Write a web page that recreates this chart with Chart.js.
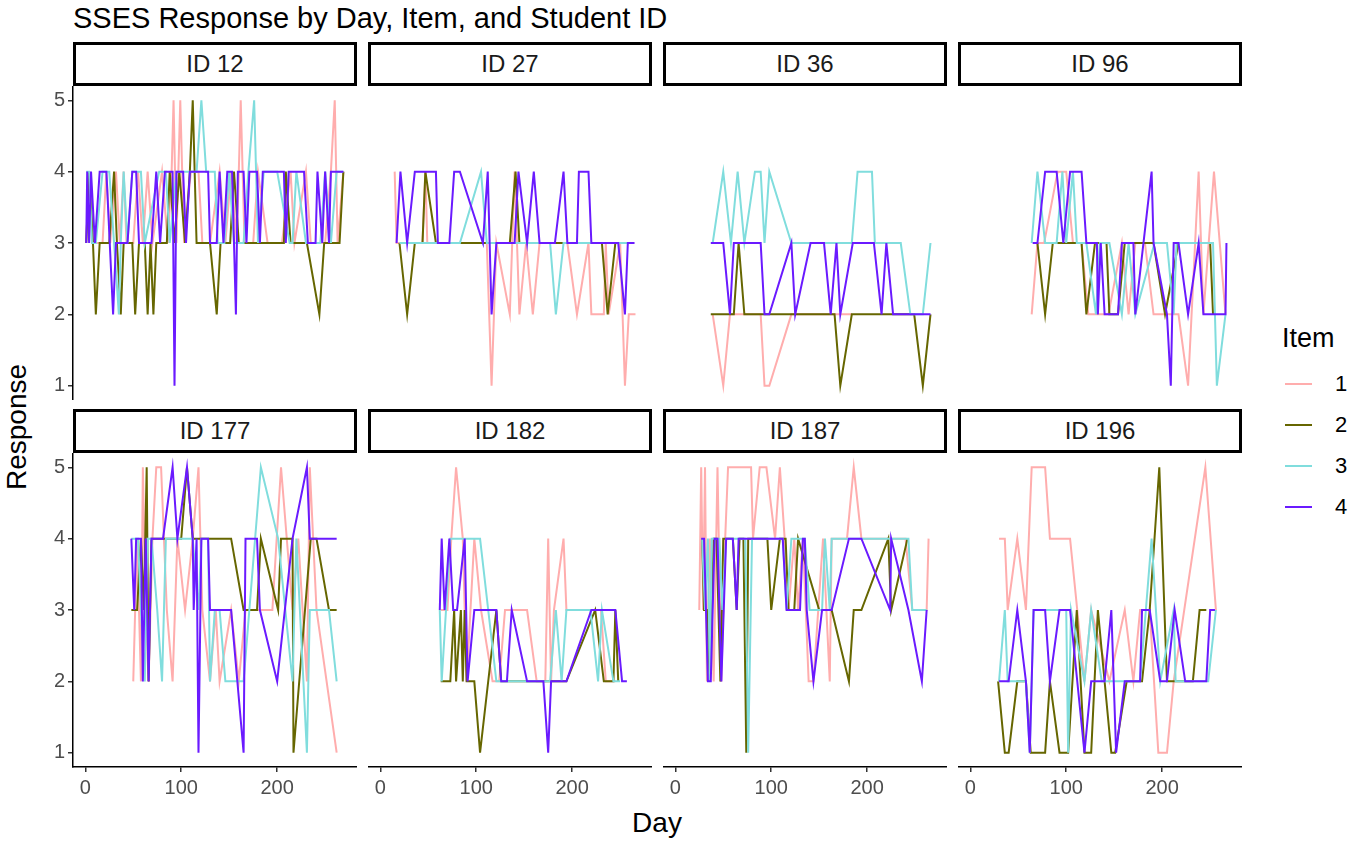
<!DOCTYPE html>
<html><head><meta charset="utf-8">
<script src="https://cdn.jsdelivr.net/npm/chart.js@4.4.1/dist/chart.umd.min.js"></script>
<style>
html,body{margin:0;padding:0;background:#fff;}
#root{position:relative;width:1348px;height:843px;overflow:hidden;font-family:"Liberation Sans",Arial,Helvetica,sans-serif;}
.abs{position:absolute;white-space:nowrap;line-height:1;}
.strip{position:absolute;box-sizing:border-box;border:3.5px solid #000;background:#fff;color:#1a1a1a;font-size:24px;display:flex;align-items:center;justify-content:center;}
canvas{position:absolute;}
</style></head><body><div id="root"></div>
<script>
// ---------- data ----------
const studentIds = ['12','27','36','96','177','182','187','196'];
const itemLabels = ['1','2','3','4'];
const dayTicks = [0,100,200];
const responseTicks = [1,2,3,4,5];

const id12_1 = [[1,3],[4,4],[8,3],[18,3],[22,4],[26,3],[32,4],[36,3],[40,4],[43,3],[50,3],[55,4],[60,3],[65,4],[70,3],[80,4],[86,3],[90,4],[92,5],[95,3],[99,5],[103,3],[110,4],[118,4],[122,3],[130,3],[140,4],[146,3],[152,4],[158,3],[162,5],[166,3],[175,3],[180,4],[190,3],[205,3],[214,4],[218,3],[230,4],[235,3],[250,3],[256,4],[260,5],[263,3],[269,4]];
const id12_2 = [[1,3],[4,4],[8,3],[11,2],[15,3],[25,3],[30,4],[33,3],[37,2],[40,3],[49,3],[52,2],[56,3],[62,3],[65,2],[68,3],[71,2],[74,3],[85,3],[88,4],[93,3],[98,4],[104,3],[109,4],[112,5],[116,3],[130,3],[137,2],[141,3],[151,3],[155,4],[160,3],[193,3],[207,3],[209,4],[214,3],[231,3],[244,2],[249,3],[265,3],[269,4]];
const id12_3 = [[1,4],[4,4],[7,3],[11,3],[18,4],[25,4],[30,3],[35,2],[37,3],[40,4],[44,3],[49,4],[58,4],[62,3],[77,4],[84,4],[88,3],[95,4],[110,4],[116,4],[121,5],[126,4],[135,4],[138,3],[145,3],[150,4],[155,3],[165,3],[170,4],[176,5],[180,3],[186,4],[200,4],[213,3],[216,3],[220,4],[230,3],[245,3],[250,4],[256,3],[262,4],[269,4]];
const id12_4 = [[1,3],[2,4],[4,3],[6,4],[10,3],[15,4],[22,4],[29,2],[32,3],[44,3],[49,4],[53,4],[56,3],[69,3],[74,4],[78,3],[83,4],[91,4],[93,1],[95,4],[102,4],[105,3],[109,4],[128,4],[130,3],[137,3],[140,4],[144,3],[148,4],[153,4],[157,2],[159,4],[165,4],[168,3],[171,4],[179,4],[182,3],[185,4],[207,4],[209,3],[212,4],[228,4],[232,3],[240,3],[242,4],[247,3],[250,4],[254,3],[256,4],[269,4]];

const id27_1 = [[15,4],[17,3],[44,3],[47,4],[49,3],[111,3],[116,1],[121,3],[135,2],[140,4],[145,2],[152,3],[159,2],[166,3],[195,3],[205,2],[217,3],[220,2],[233,2],[235,3],[238,2],[250,3],[255,1],[259,2],[266,2]];
const id27_2 = [[20,3],[28,2],[36,3],[44,3],[47,4],[58,3],[111,3],[135,3],[141,4],[145,3],[231,3],[237,2],[245,3],[250,3]];
const id27_3 = [[20,3],[83,3],[105,4],[111,3],[177,3],[183,2],[191,3],[262,3]];
const id27_4 = [[17,3],[21,4],[28,3],[36,4],[58,4],[60,3],[72,3],[77,4],[83,4],[107,3],[112,4],[116,2],[121,3],[140,3],[144,4],[153,3],[160,4],[166,3],[182,3],[191,4],[195,3],[205,3],[207,4],[217,4],[220,3],[248,3],[255,2],[258,3],[265,3]];

const id36_1 = [[39,2],[50,1],[57,2],[89,2],[93,1],[98,1],[121,2],[184,2]];
const id36_2 = [[37,2],[61,2],[66,3],[72,2],[166,2],[172,1],[184,2],[249,2],[258,1],[266,2]];
const id36_3 = [[39,3],[50,4],[58,3],[65,4],[72,3],[83,4],[89,4],[93,3],[98,4],[121,3],[184,3],[190,4],[205,4],[208,3],[235,3],[245,2],[258,2],[266,3]];
const id36_4 = [[37,3],[50,3],[57,2],[61,3],[89,3],[93,2],[98,2],[121,3],[125,2],[141,3],[155,3],[162,2],[168,3],[172,2],[185,3],[207,3],[215,2],[220,3],[227,2],[266,2]];

const id96_1 = [[64,2],[70,3],[77,3],[91,4],[100,4],[107,3],[116,3],[123,2],[144,2],[158,3],[165,2],[172,3],[182,3],[191,2],[217,2],[227,1],[238,4],[243,2],[254,4],[266,2]];
const id96_2 = [[70,3],[78,2],[86,3],[116,3],[121,2],[130,3],[142,3],[145,2],[154,2],[161,3],[184,3],[191,3],[203,2],[217,3],[250,3],[253,2]];
const id96_3 = [[64,3],[70,4],[78,3],[90,3],[96,4],[100,3],[107,4],[111,3],[121,3],[131,2],[135,3],[145,3],[158,2],[165,3],[172,2],[192,3],[205,3],[212,2],[215,3],[253,3],[257,1],[266,2]];
const id96_4 = [[65,3],[70,3],[78,4],[90,4],[97,3],[104,4],[116,4],[121,3],[132,3],[133,2],[136,3],[140,2],[154,2],[158,3],[170,3],[172,2],[189,4],[191,3],[205,2],[209,1],[212,3],[217,3],[227,2],[238,3],[243,2],[266,2],[267,3]];

const id177_1 = [[50,2],[54,4],[58,2],[60,5],[63,3],[66,2],[70,4],[74,5],[79,5],[85,3],[91,2],[96,4],[104,3],[112,4],[118,5],[122,3],[130,2],[136,3],[140,2],[152,3],[160,2],[167,3],[182,3],[195,3],[204,5],[216,3],[222,4],[231,2],[234,5],[241,3],[262,1]];
const id177_2 = [[48,3],[54,3],[58,4],[61,3],[64,5],[66,2],[69,4],[91,4],[100,4],[106,5],[112,4],[152,4],[165,3],[179,3],[183,4],[201,3],[204,4],[216,4],[217,1],[235,4],[241,4],[254,3],[262,3]];
const id177_3 = [[48,4],[55,4],[58,3],[62,2],[65,4],[69,4],[75,3],[80,2],[84,4],[100,4],[112,4],[118,3],[121,4],[128,4],[130,2],[135,3],[140,3],[146,2],[152,2],[165,2],[183,5],[201,4],[216,2],[220,4],[231,1],[234,3],[254,3],[262,2]];
const id177_4 = [[48,4],[51,3],[53,4],[58,4],[60,2],[63,4],[66,2],[69,4],[81,4],[91,5],[96,4],[106,5],[112,4],[113,3],[116,4],[118,1],[121,4],[128,4],[130,3],[152,3],[165,1],[167,4],[179,4],[182,3],[200,2],[216,4],[231,5],[234,4],[262,4]];

const id182_1 = [[63,3],[70,3],[74,4],[79,5],[86,4],[90,2],[98,4],[105,3],[117,2],[124,2],[130,3],[137,3],[153,3],[163,2],[172,2],[175,4],[178,2],[181,3],[191,4],[194,3],[230,3],[235,2],[245,2]];
const id182_2 = [[63,2],[73,2],[77,3],[79,2],[84,3],[86,2],[88,3],[90,2],[98,2],[104,1],[121,3],[126,2],[175,2],[194,2],[224,3],[233,2],[243,2],[245,3],[248,2]];
const id182_3 = [[62,3],[64,2],[73,4],[104,4],[121,2],[170,2],[177,2],[183,3],[189,2],[194,3],[219,3],[227,2],[231,3],[243,2],[250,2]];
const id182_4 = [[62,3],[64,4],[67,3],[72,4],[76,3],[80,3],[88,4],[91,2],[98,3],[121,3],[126,2],[132,2],[137,3],[153,2],[170,2],[175,1],[178,2],[194,2],[220,3],[245,3],[252,2],[257,2]];

const id187_1 = [[25,3],[27,5],[29,3],[31,5],[33,2],[36,4],[40,2],[44,5],[48,2],[52,4],[55,5],[79,5],[81,4],[88,5],[95,5],[104,4],[109,5],[114,4],[118,3],[124,4],[128,3],[133,4],[139,2],[144,2],[154,4],[161,2],[163,4],[179,4],[186,5],[194,4],[240,4],[247,3],[262,3],[264,4]];
const id187_2 = [[28,4],[30,3],[33,3],[36,2],[40,4],[43,4],[47,2],[50,4],[60,4],[64,3],[67,4],[71,4],[74,1],[76,4],[96,4],[100,3],[109,4],[115,4],[118,3],[124,3],[128,4],[150,3],[163,3],[181,2],[186,3],[194,3],[222,4],[225,3],[242,4]];
const id187_3 = [[28,4],[31,3],[34,4],[36,2],[38,4],[46,4],[49,3],[53,4],[70,4],[73,4],[76,1],[80,4],[112,4],[116,3],[121,4],[130,4],[135,4],[140,3],[153,3],[156,4],[161,3],[163,4],[243,4],[247,3],[262,3]];
const id187_4 = [[27,4],[30,4],[34,2],[37,2],[41,4],[44,4],[48,2],[53,4],[60,4],[64,3],[66,4],[112,4],[116,3],[130,3],[133,4],[135,4],[137,3],[144,2],[153,3],[163,3],[181,4],[194,4],[224,3],[225,4],[243,3],[257,2],[262,3]];

const id196_1 = [[30,4],[36,4],[39,3],[49,4],[58,3],[64,5],[78,5],[83,4],[104,4],[119,2],[126,3],[145,2],[161,3],[170,2],[177,3],[187,3],[196,1],[205,1],[212,2],[245,5],[256,3]];
const id196_2 = [[29,2],[36,1],[40,1],[49,2],[58,2],[63,1],[78,1],[83,2],[93,1],[102,1],[111,3],[119,1],[126,1],[133,3],[147,1],[151,1],[163,2],[179,2],[187,3],[197,5],[205,2],[232,2],[239,3],[246,3]];
const id196_3 = [[30,2],[36,3],[39,2],[58,2],[62,1],[66,3],[100,3],[102,1],[105,3],[119,2],[126,3],[137,2],[161,2],[177,2],[189,4],[198,2],[212,3],[214,2],[248,2],[256,3]];
const id196_4 = [[30,2],[40,2],[49,3],[58,2],[62,1],[66,3],[78,3],[83,2],[93,3],[104,3],[119,1],[126,2],[140,2],[147,3],[152,1],[161,2],[177,2],[179,3],[187,3],[198,2],[205,2],[213,3],[224,2],[246,2],[250,3],[255,3]];

const panelSeries = [
  [id12_1,id12_2,id12_3,id12_4],[id27_1,id27_2,id27_3,id27_4],
  [id36_1,id36_2,id36_3,id36_4],[id96_1,id96_2,id96_3,id96_4],
  [id177_1,id177_2,id177_3,id177_4],[id182_1,id182_2,id182_3,id182_4],
  [id187_1,id187_2,id187_3,id187_4],[id196_1,id196_2,id196_3,id196_4]
];

// ---------- style / layout ----------
const itemColors = ['#FFADAD','#666600','#80DDDD','#6A1AFF'];
const FONT = '"Liberation Sans", Arial, sans-serif';
const COL_X = [73,368,663,958], ROW_Y = [86,453];
const PW = 284, PH = 314, STRIP_H = 44, YW = 60, XH = 44;
const X_MIN = -12.8, X_MAX = 283.2, Y_MIN = 0.8, Y_MAX = 5.2;

const root = document.getElementById('root');
function addText(txt, css){
  const d=document.createElement('div'); d.className='abs'; d.textContent=txt;
  Object.assign(d.style, css); root.appendChild(d); return d;
}

addText('SSES Response by Day, Item, and Student ID',{left:'73px',top:'4px',fontSize:'29px',color:'#000'});
addText('Response',{left:'17px',top:'427px',fontSize:'28px',color:'#000',transform:'translate(-50%,-50%) rotate(-90deg)'});
addText('Day',{left:'657px',top:'823px',fontSize:'28px',color:'#000',transform:'translate(-50%,-50%)'});

// legend
addText('Item',{left:'1282px',top:'338px',fontSize:'27px',color:'#000',transform:'translateY(-50%)'});
itemLabels.forEach((lab,k)=>{
  const y = 384 + 41*k;
  const ln=document.createElement('div');
  Object.assign(ln.style,{position:'absolute',left:'1285px',top:(y-1)+'px',width:'27px',height:'2px',background:itemColors[k]});
  root.appendChild(ln);
  addText(lab,{left:'1335px',top:y+'px',fontSize:'22px',color:'#000',transform:'translateY(-50%)'});
});

studentIds.forEach((sid,i)=>{
  const col=i%4, row=Math.floor(i/4);
  const left=COL_X[col], top=ROW_Y[row];
  const showY = col===0, showX = row===1;
  const s=document.createElement('div'); s.className='strip'; s.textContent='ID '+sid;
  Object.assign(s.style,{left:left+'px',top:(top-STRIP_H)+'px',width:PW+'px',height:STRIP_H+'px'});
  root.appendChild(s);

  const yw = showY?YW:0, xh = showX?XH:0;
  const cw = PW + yw, ch = PH + xh;
  const cv=document.createElement('canvas');
  cv.width=cw; cv.height=ch;
  Object.assign(cv.style,{left:(left-yw)+'px',top:top+'px',width:cw+'px',height:ch+'px'});
  root.appendChild(cv);

  const axisCommon = {
    grid:{display:true,drawOnChartArea:false,drawTicks:true,tickLength:5,color:'#333333',lineWidth:1.5},
    border:{display:true,color:'#000000',width:1.5},
  };
  new Chart(cv,{
    type:'line',
    data:{datasets: panelSeries[i].map((arr,k)=>({
      label:itemLabels[k],
      data:arr.map(p=>({x:p[0],y:p[1]})),
      borderColor:itemColors[k], backgroundColor:itemColors[k],
      borderWidth:2, pointRadius:0, tension:0, fill:false, order:3-k
    }))},
    options:{
      responsive:false, animation:false, events:[],
      layout:{padding:0},
      plugins:{legend:{display:false},tooltip:{enabled:false},title:{display:false}},
      scales:{
        x:Object.assign({type:'linear',min:X_MIN,max:X_MAX,display:showX,
          afterBuildTicks:a=>{a.ticks=dayTicks.map(v=>({value:v}));},
          afterFit:a=>{a.height=xh;a.paddingLeft=0;a.paddingRight=0;},
          ticks:{color:'#4d4d4d',font:{family:FONT,size:20},padding:4,maxRotation:0,autoSkip:false}},axisCommon),
        y:Object.assign({type:'linear',min:Y_MIN,max:Y_MAX,display:showY,
          afterBuildTicks:a=>{a.ticks=responseTicks.map(v=>({value:v}));},
          afterFit:a=>{a.width=yw;a.paddingTop=0;a.paddingBottom=0;},
          ticks:{color:'#4d4d4d',font:{family:FONT,size:20},padding:3,autoSkip:false}},axisCommon)
      }
    }
  });
});
</script>
</body></html>
